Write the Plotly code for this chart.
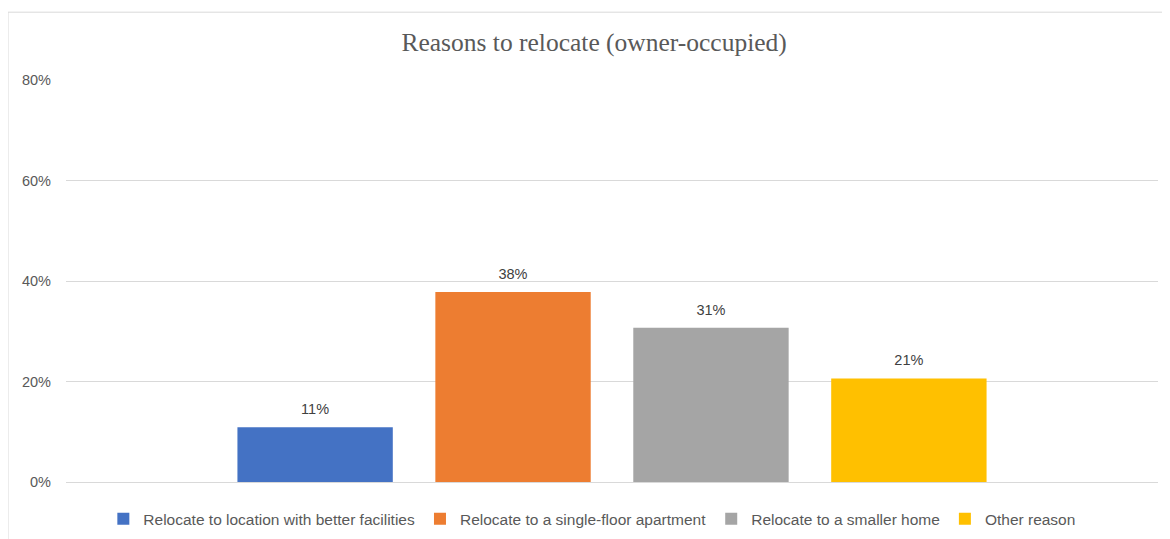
import plotly.graph_objects as go

title = "Reasons to relocate (owner-occupied)"
category = ["Owner-occupied"]
series_names = [
    "Relocate to location with better facilities",
    "Relocate to a single-floor apartment",
    "Relocate to a smaller home",
    "Other reason",
]
series_values = [0.109, 0.378, 0.307, 0.206]
series_colors = ["#4472C4", "#ED7D31", "#A5A5A5", "#FFC000"]
y_ticks = [0, 0.2, 0.4, 0.6, 0.8]
y_tick_labels = ["0%", "20%", "40%", "60%", "80%"]

SANS = "Liberation Sans, Arial, sans-serif"

fig = go.Figure()
for name, val, col in zip(series_names, series_values, series_colors):
    fig.add_trace(go.Bar(
        x=category, y=[val], name=name,
        marker=dict(color=col, line=dict(width=0)),
        texttemplate="<span style='font-size:14.5px'>%{y:.0%}</span><br> ",
        textposition="outside",
        textfont=dict(family=SANS, size=7, color="#404040"),
        cliponaxis=False,
    ))

fig.update_layout(
    width=1170, height=539,
    barmode="group", bargap=0.275, bargroupgap=0.215,
    paper_bgcolor="white", plot_bgcolor="white",
    margin=dict(l=58, r=20, t=72, b=64),
    title=dict(text=title, x=0.501, xanchor="center", y=0.937, yanchor="middle",
               font=dict(family="Liberation Serif, Times New Roman, serif", size=25.5, color="#595959")),
    xaxis=dict(showticklabels=False, showgrid=False, zeroline=False, showline=False, ticks=""),
    yaxis=dict(range=[0, 0.8], tickvals=y_ticks, ticktext=y_tick_labels,
               showgrid=True, gridcolor="#D9D9D9", gridwidth=1,
               zeroline=True, zerolinecolor="#D9D9D9", zerolinewidth=1,
               showline=False, ticks="", ticklabelstandoff=14,
               tickfont=dict(family=SANS, size=14.5, color="#595959")),
    legend=dict(orientation="h", x=0.482, xanchor="center", y=-0.09, yanchor="middle",
                font=dict(family=SANS, size=15.5, color="#595959"),
                itemwidth=30, traceorder="normal"),
    shapes=[dict(type="rect", xref="paper", yref="paper",
                 x0=-0.0531, x1=1.02, y0=-0.3, y1=1.1687,
                 line=dict(color="#D9D9D9", width=1), fillcolor="rgba(0,0,0,0)", layer="below")],
)

fig.write_html("out.html")
